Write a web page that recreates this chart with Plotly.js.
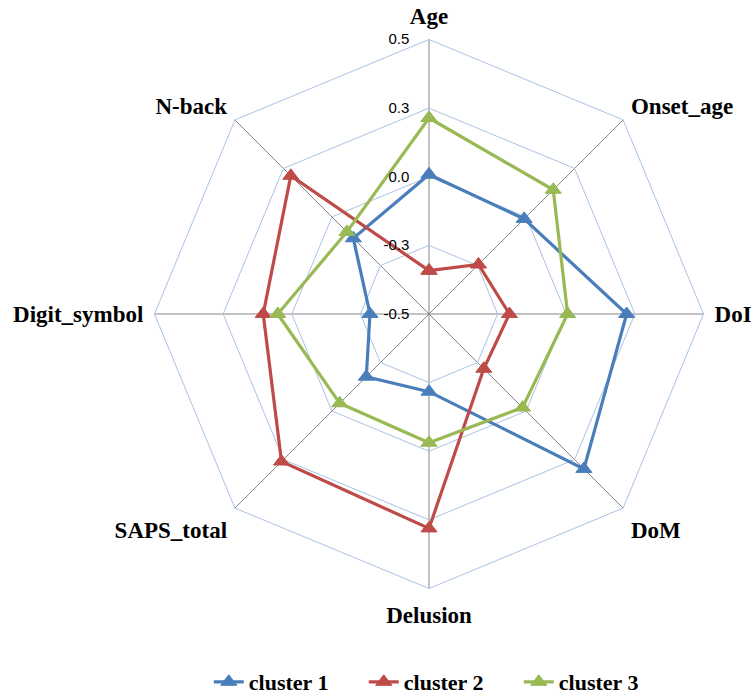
<!DOCTYPE html>
<html>
<head>
<meta charset="utf-8">
<script src="https://cdn.plot.ly/plotly-3.0.1.min.js"></script>
<style>
  html, body { margin: 0; padding: 0; background: #ffffff; }
  #chart { width: 751px; height: 694px; }
  /* keep the series markers visible */
  #chart svg.main-svg g.scatterlayer path.point { display: inline !important; visibility: visible !important; }
</style>
</head>
<body>
<div id="chart"></div>
<script>
// Axis categories, clockwise from the top
const categories = ['Age', 'Onset_age', 'DoI', 'DoM', 'Delusion', 'SAPS_total', 'Digit_symbol', 'N-back'];

// Standardised profile of each cluster
const cluster1 = [0.008, -0.010, 0.220, 0.298, -0.217, -0.177, -0.285, -0.110];
const cluster2 = [-0.342, -0.245, -0.207, -0.218, 0.281, 0.260, 0.104, 0.212];
const cluster3 = [0.214, 0.140, 0.005, -0.018, -0.031, -0.040, 0.051, -0.077];

const seriesNames = ['cluster 1', 'cluster 2', 'cluster 3'];
const seriesColors = ['#4A7EBB', '#BE4B48', '#98B954'];

// Radial ticks (labels shown with one decimal)
const radialTickVals = [-0.5, -0.25, 0, 0.25, 0.5];
const radialTickText = ['-0.5', '-0.3', '0.0', '0.3', '0.5'];

const serifBold = { family: 'Liberation Serif, Times New Roman, serif', size: 23, color: '#000000', weight: 'bold' };

// Repeat the first point so each polygon closes
const close = arr => arr.concat([arr[0]]);

const traces = [cluster1, cluster2, cluster3].map((vals, i) => ({
  type: 'scatterpolar',
  mode: 'lines+markers',
  name: seriesNames[i],
  r: close(vals),
  theta: close(categories),
  line: { color: seriesColors[i], width: 3.2 },
  marker: { symbol: 'triangle-up', size: 14, color: seriesColors[i], line: { color: seriesColors[i], width: 1 } },
  cliponaxis: false
}));

const layout = {
  width: 751,
  height: 694,
  margin: { l: 0, r: 0, t: 0, b: 0, autoexpand: false },
  paper_bgcolor: '#ffffff',
  showlegend: true,
  legend: {
    orientation: 'h',
    x: 0.278, xanchor: 'left',
    y: 0.0173, yanchor: 'middle',
    font: { family: 'Liberation Serif, Times New Roman, serif', size: 22, color: '#000000', weight: 'bold' },
    entrywidth: 110, entrywidthmode: 'pixels',
    itemwidth: 30,
    bgcolor: 'rgba(0,0,0,0)'
  },
  polar: {
    domain: { x: [0.2057, 0.9368], y: [0.1520, 0.9431] },
    bgcolor: '#ffffff',
    gridshape: 'linear',
    radialaxis: {
      range: [-0.5, 0.5],
      tickvals: radialTickVals,
      ticktext: radialTickText,
      angle: 90,
      tickangle: 90,
      side: 'counterclockwise',
      showline: false,
      ticks: 'outside',
      ticklen: 14,
      tickcolor: 'rgba(0,0,0,0)',
      gridcolor: '#A9C3E4',
      gridwidth: 1,
      tickfont: { family: 'Liberation Sans, Arial, sans-serif', size: 15, color: '#000000' }
    },
    angularaxis: {
      type: 'category',
      categoryarray: categories,
      rotation: 90,
      direction: 'clockwise',
      gridcolor: '#868686',
      gridwidth: 1,
      showline: true,
      linecolor: '#A9C3E4',
      linewidth: 1,
      ticks: 'outside',
      ticklen: 6,
      tickcolor: 'rgba(0,0,0,0)',
      tickfont: serifBold
    }
  }
};

Plotly.newPlot('chart', traces, layout, { displayModeBar: false });
</script>
</body>
</html>
